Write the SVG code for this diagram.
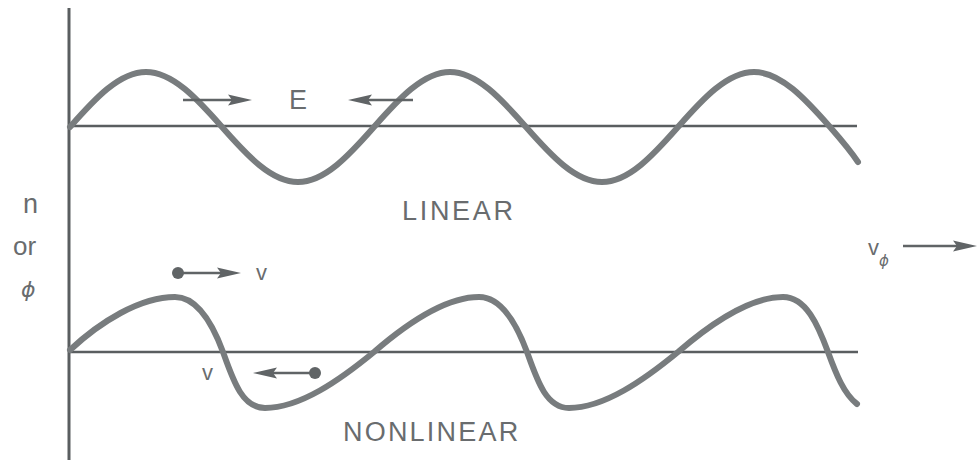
<svg xmlns="http://www.w3.org/2000/svg" width="977" height="460" viewBox="0 0 977 460">
  <style>
    .wave { fill: none; stroke: #787c7e; stroke-width: 6; stroke-linecap: round; stroke-linejoin: round; }
    .line { fill: none; stroke: #5a5e60; stroke-width: 2.5; }
    .shaft { fill: none; stroke: #606466; stroke-width: 2.5; }
    .lbl { font-family: "Liberation Sans", Arial, sans-serif; fill: #696c6e; }
    .phi { font-family: "DejaVu Sans", sans-serif; font-style: italic; fill: #696c6e; }
    .big { font-size: 27px; }
    .sm { font-size: 22px; }
    .dot { fill: #606466; }
  </style>
  <defs>
    <marker id="ah" viewBox="-10 -6 27 12" refX="0" refY="0" markerWidth="27" markerHeight="12" markerUnits="userSpaceOnUse" orient="auto">
      <path d="M15,0 L-9,-5.5 L-5,0 L-9,5.5 Z" fill="#606466"/>
    </marker>
  </defs>
  <rect width="977" height="460" fill="#ffffff"/>

  <g id="axis">
    <line class="line" x1="69" y1="8" x2="69" y2="460" style="stroke-width:3"/>
  </g>

  <g id="linear">
    <line class="line" x1="69" y1="126" x2="857" y2="126"/>
    <path class="wave" d="M70,127 C94.8,98.8 119.4,72 146,72 C172.6,72 197.2,98.8 222,127 C246.8,155.2 271.4,182 298,182 C324.6,182 349.2,155.2 374,127 C398.8,98.8 423.4,72 450,72 C476.6,72 501.2,98.8 526,127 C550.8,155.2 575.4,182 602,182 C628.6,182 653.2,155.2 678,127 C702.8,98.8 727.4,72 754,72 C780.6,72 805.2,98.8 830,127 C840,138.4 850,150 858,162"/>
  </g>

  <g id="nonlinear">
    <line class="line" x1="69" y1="352" x2="858" y2="352"/>
    <path class="wave" d="M70,350 C100,322 140,297 175,297 C198,297 213,325 223,352 C233,380 242,408 265,408 C300,408 340,380 374,352 C404,326 444,297 479,297 C502,297 517,325 527,352 C537,380 546,408 569,408 C604,408 644,380 678,352 C708,326 748,297 783,297 C806,297 818,325 828,352 C836,374 844,394 857,404"/>
  </g>

  <g id="connectors">
    <line class="shaft" x1="183" y1="100" x2="237" y2="100" marker-end="url(#ah)"/>
    <line class="shaft" x1="413" y1="100" x2="363" y2="100" marker-end="url(#ah)"/>
    <circle class="dot" cx="178" cy="273" r="6"/>
    <line class="shaft" x1="178" y1="273" x2="226" y2="273" marker-end="url(#ah)"/>
    <circle class="dot" cx="315" cy="373" r="6"/>
    <line class="shaft" x1="315" y1="373" x2="268" y2="373" marker-end="url(#ah)"/>
    <line class="shaft" x1="903" y1="246" x2="962" y2="246" marker-end="url(#ah)"/>
  </g>

  <g id="labels">
    <text class="lbl big" x="23" y="213">n</text>
    <text class="lbl" x="13" y="255" style="font-size:26px">or</text>
    <text class="phi" x="21" y="297" style="font-size:22px">ϕ</text>
    <text class="lbl big" x="289" y="109">E</text>
    <text class="lbl big" x="402" y="220" letter-spacing="2.7">LINEAR</text>
    <text class="lbl big" x="343" y="441" letter-spacing="2.2">NONLINEAR</text>
    <text class="lbl sm" x="256" y="280">v</text>
    <text class="lbl sm" x="202" y="380">v</text>
    <text class="lbl sm" x="868" y="255">v</text>
    <text class="phi" x="879" y="266" style="font-size:15px">ϕ</text>
  </g>
</svg>
